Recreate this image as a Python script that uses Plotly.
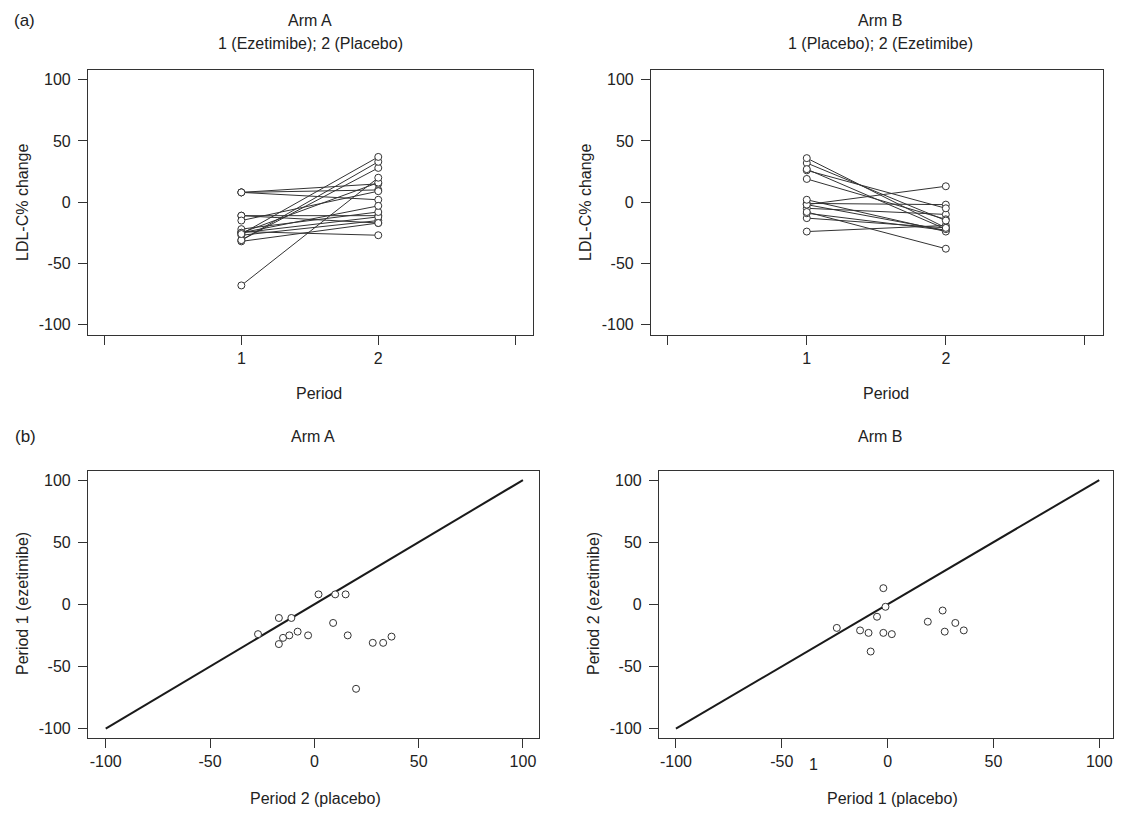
import plotly.graph_objects as go

# ---------------- data ----------------
periods = [1, 2]

# Arm A: period 1 = ezetimibe, period 2 = placebo
armA_p1_ezetimibe = [8, 8, 8, -11, -11, -24, -15, -27, -25, -22, -25, -32, -25, -31, -31, -26, -68]
armA_p2_placebo = [2, 10, 15, -17, -11, -27, 9, -15, -12, -8, -3, -17, 16, 28, 33, 37, 20]

# Arm B: period 1 = placebo, period 2 = ezetimibe
armB_p1_placebo = [-2, -1, -5, -24, -13, -9, -2, 2, -8, 19, 26, 32, 27, 36]
armB_p2_ezetimibe = [13, -2, -10, -19, -21, -23, -23, -24, -38, -14, -5, -15, -22, -21]

diag = [-100, 100]
y_ticks = [-100, -50, 0, 50, 100]
y_tick_labels = ["-100", "-50", "0", "50", "100"]
top_x_ticks = [0, 1, 2, 3]
top_x_labels = ["", "1", "2", ""]
bot_x_ticks = [-100, -50, 0, 50, 100]
bot_x_labels = ["-100", "-50", "0", "50", "100"]

# ---------------- styling ----------------
# the page body has an 8px margin, so the figure starts at (8, 8)
OFF = 8
W, H = 1123 - 2 * OFF, 815 - 2 * OFF
FONT = "Liberation Sans, Arial, sans-serif"
TXT = "#222222"
LINE = "#333333"


def px(x):
    return (x - OFF) / W


def py(y):
    return 1 - (y - OFF) / H


fig = go.Figure()

marker = dict(symbol="circle", size=7, color="white", line=dict(color=LINE, width=1))


def paired(p1, p2):
    xs, ys = [], []
    for a, b in zip(p1, p2):
        xs += [periods[0], periods[1], None]
        ys += [a, b, None]
    return xs, ys


# top-left: Arm A
xs, ys = paired(armA_p1_ezetimibe, armA_p2_placebo)
fig.add_trace(go.Scatter(x=xs, y=ys, mode="lines", line=dict(color=LINE, width=1),
                         xaxis="x", yaxis="y", showlegend=False, hoverinfo="skip"))
fig.add_trace(go.Scatter(x=[periods[0]] * len(armA_p1_ezetimibe) + [periods[1]] * len(armA_p2_placebo),
                         y=armA_p1_ezetimibe + armA_p2_placebo, mode="markers", marker=marker,
                         xaxis="x", yaxis="y", showlegend=False))

# top-right: Arm B
xs, ys = paired(armB_p1_placebo, armB_p2_ezetimibe)
fig.add_trace(go.Scatter(x=xs, y=ys, mode="lines", line=dict(color=LINE, width=1),
                         xaxis="x2", yaxis="y2", showlegend=False, hoverinfo="skip"))
fig.add_trace(go.Scatter(x=[periods[0]] * len(armB_p1_placebo) + [periods[1]] * len(armB_p2_ezetimibe),
                         y=armB_p1_placebo + armB_p2_ezetimibe, mode="markers", marker=marker,
                         xaxis="x2", yaxis="y2", showlegend=False))

# bottom-left: Arm A scatter
fig.add_trace(go.Scatter(x=diag, y=diag, mode="lines", line=dict(color="#1a1a1a", width=2),
                         xaxis="x3", yaxis="y3", showlegend=False, hoverinfo="skip"))
fig.add_trace(go.Scatter(x=armA_p2_placebo, y=armA_p1_ezetimibe, mode="markers", marker=marker,
                         xaxis="x3", yaxis="y3", showlegend=False))

# bottom-right: Arm B scatter
fig.add_trace(go.Scatter(x=diag, y=diag, mode="lines", line=dict(color="#1a1a1a", width=2),
                         xaxis="x4", yaxis="y4", showlegend=False, hoverinfo="skip"))
fig.add_trace(go.Scatter(x=armB_p1_placebo, y=armB_p2_ezetimibe, mode="markers", marker=marker,
                         xaxis="x4", yaxis="y4", showlegend=False))

common = dict(showline=True, linecolor=LINE, linewidth=1.2, mirror=True, showgrid=False,
              zeroline=False, ticks="outside", ticklen=9, tickwidth=1, tickcolor=LINE,
              tickfont=dict(family=FONT, size=16, color=TXT), fixedrange=True)

top_x = dict(common, range=[-0.12, 3.13], tickvals=top_x_ticks, ticktext=top_x_labels)
top_y = dict(common, range=[-108.5, 108], tickvals=y_ticks, ticktext=y_tick_labels,
             ticklabelstandoff=4)
bot_y = dict(common, range=[-107.6, 107.3], tickvals=y_ticks, ticktext=y_tick_labels,
             ticklabelstandoff=4)

fig.update_layout(
    width=W, height=H,
    margin=dict(l=0, r=0, t=0, b=0),
    paper_bgcolor="white", plot_bgcolor="white",
    font=dict(family=FONT, size=16, color=TXT),
    xaxis=dict(top_x, domain=[px(88), px(533)], anchor="y"),
    yaxis=dict(top_y, domain=[py(335), py(70)], anchor="x"),
    xaxis2=dict(top_x, domain=[px(651), px(1103)], anchor="y2"),
    yaxis2=dict(top_y, domain=[py(335), py(70)], anchor="x2"),
    xaxis3=dict(common, range=[-108.5, 107.7], tickvals=bot_x_ticks, ticktext=bot_x_labels,
                domain=[px(88), px(539)], anchor="y3"),
    yaxis3=dict(bot_y, domain=[py(738), py(471)], anchor="x3"),
    xaxis4=dict(common, range=[-108, 106.5], tickvals=bot_x_ticks, ticktext=bot_x_labels,
                domain=[px(659), px(1113)], anchor="y4"),
    yaxis4=dict(bot_y, domain=[py(738), py(471)], anchor="x4"),
)


def note(text, x, y, size=16, angle=0):
    fig.add_annotation(text=text, x=px(x), y=py(y), xref="paper", yref="paper",
                       showarrow=False, textangle=angle, xanchor="center", yanchor="middle",
                       font=dict(family=FONT, size=size, color=TXT))


# panel labels and titles
note("(a)", 24, 20, size=17)
note("Arm A", 310, 20)
note("1 (Ezetimibe); 2 (Placebo)", 310, 43)
note("Arm B", 880, 20)
note("1 (Placebo); 2 (Ezetimibe)", 880, 43)
note("(b)", 25, 437, size=17)
note("Arm A", 313, 437)
note("Arm B", 880, 437)

# axis titles
note("LDL-C% change", 22, 202, angle=-90)
note("LDL-C% change", 585, 202, angle=-90)
note("Period", 319, 393)
note("Period", 886, 393)
note("Period 1 (ezetimibe)", 22, 604, angle=-90)
note("Period 2 (ezetimibe)", 593, 604, angle=-90)
note("Period 2 (placebo)", 315, 798)
note("Period 1 (placebo)", 892, 798)

# stray label in the original bottom-right axis
note("1", 813, 764)

fig.write_html("out.html")
